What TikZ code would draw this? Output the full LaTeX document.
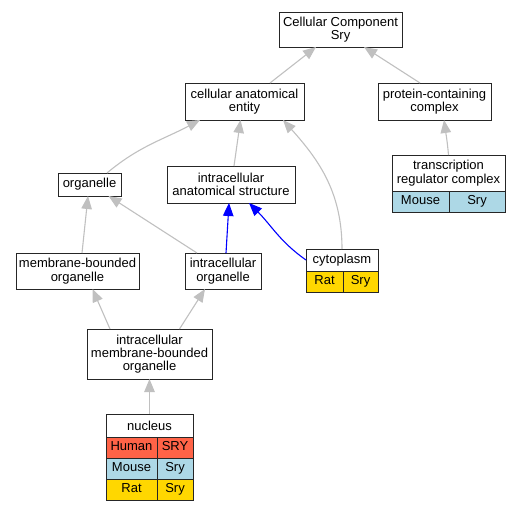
\documentclass[tikz,border=0pt]{standalone}
\usepackage{fontspec}
\setmainfont{Liberation Sans}
\usepackage{xcolor}
\usepackage{tikz}
\usetikzlibrary{arrows.meta}
\usetikzlibrary{positioning}
\definecolor{human}{HTML}{FF6347}
\definecolor{mouse}{HTML}{ADD8E6}
\definecolor{rat}{HTML}{FFD700}
\definecolor{edgegray}{HTML}{C0C0C0}
\tikzset{
  term/.style={draw=black!85, fill=white, line width=0.9pt, align=center, inner sep=2pt, outer sep=0pt},
  cell/.style={draw=black!85, line width=0.9pt, inner sep=0pt, outer sep=0pt, anchor=north west, minimum height=21pt, text height=9.5pt, text depth=2.8pt},
  isa/.style={draw=edgegray, line width=1.1pt, -{Triangle[length=13pt,width=10.5pt]}},
  partof/.style={isa, draw=blue}
}

\begin{document}
\begin{tikzpicture}[x=1pt, y=1pt, font=\fontsize{13}{13.3}\selectfont]
  \useasboundingbox (0,0) rectangle (521,512);
  % terms
  \node[term, minimum width=123pt, minimum height=35pt] (cc) at (340.5,482.5) {Cellular Component\\Sry};
  \node[term, minimum width=119pt, minimum height=37pt] (cae) at (244.5,410.5) {cellular anatomical\\entity};
  \node[term, minimum width=113pt, minimum height=37pt] (pcc) at (434.5,410.5) {protein-containing\\complex};
  \node[term, minimum width=113pt, minimum height=36pt] (trc) at (448.5,339) {transcription\\regulator complex};
  \node[term, minimum width=63pt, minimum height=23pt] (org) at (89.5,327.5) {organelle};
  \node[term, minimum width=128pt, minimum height=37pt] (ias) at (231,327.5) {intracellular\\anatomical structure};
  \node[term, minimum width=123pt, minimum height=36pt] (mbo) at (77.5,241) {membrane-bounded\\organelle};
  \node[term, minimum width=76pt, minimum height=36pt] (io) at (223,241) {intracellular\\organelle};
  \node[term, minimum width=72pt, minimum height=22pt] (cyt) at (342,252) {cytoplasm};
  \node[term, minimum width=125pt, minimum height=50pt] (imbo) at (149.5,158) {intracellular\\membrane-bounded\\organelle};
  \node[term, minimum width=87pt, minimum height=23pt] (nuc) at (149.5,86.5) {nucleus};
  % gene tables
  \node[cell, fill=mouse, minimum width=57pt] (trcM) at (trc.south west) {Mouse};
  \node[cell, fill=mouse, minimum width=56pt] (trcMg) at (trcM.north east) {Sry};
  \node[cell, fill=rat, minimum width=37pt] (cytR) at (cyt.south west) {Rat};
  \node[cell, fill=rat, minimum width=35pt] (cytRg) at (cytR.north east) {Sry};
  \node[cell, fill=human, minimum width=51pt] (nucH) at (nuc.south west) {Human};
  \node[cell, fill=human, minimum width=36pt] (nucHg) at (nucH.north east) {SRY};
  \node[cell, fill=mouse, minimum width=51pt] (nucM) at (nucH.south west) {Mouse};
  \node[cell, fill=mouse, minimum width=36pt] (nucMg) at (nucM.north east) {Sry};
  \node[cell, fill=rat, minimum width=51pt] (nucR) at (nucM.south west) {Rat};
  \node[cell, fill=rat, minimum width=36pt] (nucRg) at (nucR.north east) {Sry};
  % relations
  \draw[isa] ([xshift=25.5pt]cae.north) -- ([xshift=-24.5pt]cc.south);
  \draw[isa] ([xshift=-14.5pt]pcc.north) -- ([xshift=23.5pt]cc.south);
  \draw[isa] (trc.north) to[out=95,in=-82] ([xshift=9.5pt]pcc.south);
  \draw[isa] ([xshift=17.5pt]org.north) to[out=40,in=-152] ([xshift=-44.5pt]cae.south);
  \draw[isa] ([xshift=3pt]ias.north) -- ([xshift=-4pt]cae.south);
  \draw[isa] (cyt.north) to[out=90,in=-48] ([xshift=38.5pt]cae.south);
  \draw[isa] ([xshift=4.5pt]mbo.north) -- ([xshift=-1.5pt]org.south);
  \draw[isa] ([xshift=-26pt]io.north) -- ([xshift=19pt]org.south);
  \draw[partof] ([xshift=3pt]io.north) -- ([xshift=-2pt]ias.south);
  \draw[partof] (cyt.west) to[out=145,in=-45] ([xshift=18pt]ias.south);
  \draw[isa] ([xshift=-39.5pt]imbo.north) -- ([xshift=15pt]mbo.south);
  \draw[isa] ([xshift=30pt]imbo.north) -- ([xshift=-18pt]io.south);
  \draw[isa] (nuc.north) -- (imbo.south);
\end{tikzpicture}
\end{document}
